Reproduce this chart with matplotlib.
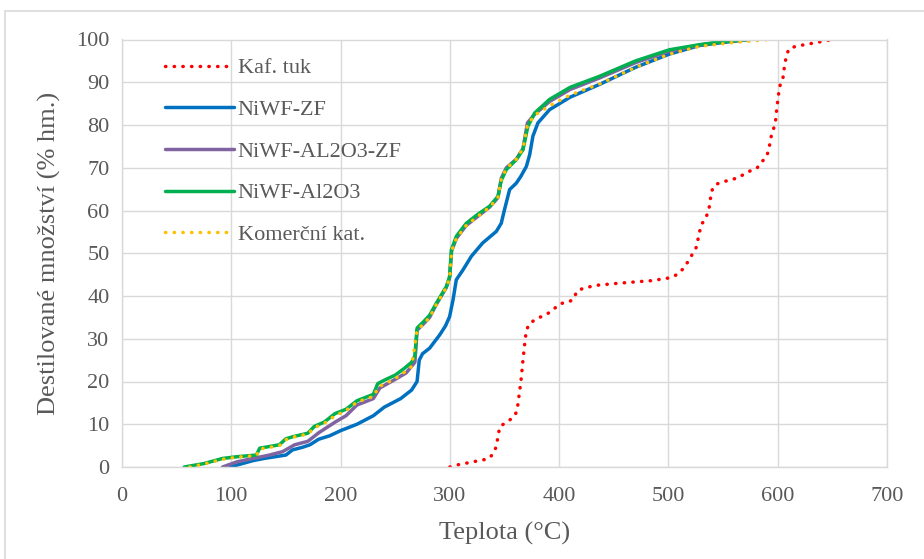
import matplotlib
matplotlib.use("Agg")
import matplotlib.pyplot as plt
from matplotlib.patches import Rectangle

# ---------------- data ----------------
kaf_T = [300, 307, 321, 335, 339.5, 342.5, 345.6, 351.7, 357.7, 361.4, 363.2, 365, 366.9, 368.4, 370, 373, 379,
         391, 401, 409.6, 414, 415.7, 421.8, 434, 455, 470, 485, 500, 508, 514, 519, 525.5, 527, 528.5, 530,
         533.8, 536.2, 537.7, 538.6, 539.8, 543.2, 549.9, 563, 574.3, 581, 584.3, 589.6, 591.7, 594.1, 596.2,
         598, 599.3, 600.2, 601.2, 602.4, 604.8, 605.7, 606.6, 608.4, 610.2, 616.4, 629.2, 644, 650]
kaf_Y = [0, 0.5, 1.2, 1.9, 3, 4.8, 9.4, 10.5, 11.5, 13, 16.5, 20, 25, 28.6, 32, 33.6, 34.6,
         36.1, 38.2, 38.7, 39.5, 41, 41.8, 42.5, 43, 43.3, 43.6, 44.2, 45, 46.5, 48.5, 51.4, 53.2, 55, 56.7,
         58, 59.6, 61.2, 63.1, 64.7, 66.1, 66.7, 67.6, 69.2, 69.9, 71.1, 72.5, 74.1, 77.4, 79.1,
         80.9, 84.2, 86, 88.1, 89.5, 91, 92.8, 94.5, 96.5, 97.8, 98.4, 99, 99.7, 100]

zf_T = [99, 110, 120, 130, 140, 150, 156, 165, 172, 180, 190, 200, 215, 230, 240, 255, 265, 270, 272, 275,
        281.5, 290.7, 296, 299.8, 302.9, 305.9, 312, 319.7, 330, 342.5, 347, 350, 354.7, 360.8, 365, 370,
        373, 376, 380.6, 391.3, 410, 437, 470, 501, 528.6, 550, 574]
zf_Y = [0, 0.8, 1.5, 2.0, 2.4, 2.8, 4, 4.6, 5.2, 6.5, 7.3, 8.5, 10, 12, 14, 16, 18, 20, 25, 26.5,
        27.8, 30.9, 33, 35.2, 39.1, 43.8, 46.1, 49.3, 52.4, 55.1, 57, 60.2, 64.9, 66.4, 68, 70.3,
        73, 77.4, 80.5, 83.6, 86.5, 89.5, 93.5, 96.6, 98.6, 99.3, 100]

alzf_T = [92, 105, 120, 135, 147, 158, 170, 180, 195, 205, 215, 230, 236, 250, 260, 268, 270, 276, 281.5,
          287.6, 296.8, 299.8, 301.6, 306, 315, 325, 336.4, 344, 347, 351.7, 360.8, 366.9, 371, 377.6,
          391.3, 410, 437, 470, 501, 528.6, 550, 574]
alzf_Y = [0, 1.2, 2.0, 2.8, 3.6, 5.2, 6, 8, 10.5, 12, 14.5, 16, 18.5, 20.5, 22, 24.5, 32, 33.5, 35,
          38, 42, 44.3, 50.5, 53.5, 56.5, 58.5, 60.8, 63, 67.5, 70, 72, 74.5, 80.5, 82.5,
          85.5, 88.3, 91, 94.6, 97.3, 98.7, 99.5, 100]

al_T = [57, 75, 92, 105, 123, 126, 144, 150, 156.5, 170, 176, 185, 195, 205, 215, 230, 234, 240, 250, 258,
        265, 268, 270, 276, 281.5, 287.6, 296.8, 299.8, 301.4, 306, 315, 325, 336.4, 344, 347, 351.7,
        360.8, 366.9, 371.4, 377.6, 391.3, 410, 437, 470, 501, 528.6, 550, 574]
al_Y = [0, 0.8, 2, 2.4, 2.8, 4.4, 5.2, 6.6, 7.1, 7.9, 9.5, 10.5, 12.5, 13.5, 15.5, 17, 19.5, 20.3, 21.5, 23,
        24.5, 26, 32.5, 34, 35.5, 38.3, 42.2, 44.6, 50.8, 54, 57, 59, 61, 63.3, 67, 69.6,
        71.9, 74.2, 79.7, 82.8, 86, 88.8, 91.4, 95, 97.6, 98.8, 99.5, 100]

kom_T = [62, 75, 92, 105, 123, 126, 144, 150, 156.5, 170, 176, 185, 195, 205, 215, 230, 235, 245, 255, 265,
         270, 276, 281.5, 287.6, 296.8, 299.8, 301.6, 306, 315, 325, 336.4, 344, 347, 351.7, 360.8,
         366.9, 371, 377.6, 391.3, 410, 437, 470, 501, 528.6, 560, 592]
kom_Y = [0, 0.7, 1.8, 2.3, 2.7, 4.2, 5.0, 6.4, 7.0, 7.7, 9.2, 10.2, 12, 13.2, 15.2, 16.5, 18.8, 20, 21.5, 23.5,
         32, 33.5, 35, 38, 42, 44.3, 50.5, 53.5, 56.5, 58.5, 60.8, 63, 67.3, 69.8, 72,
         74.5, 80, 82.3, 84.5, 87, 89.6, 93.5, 96.6, 98.4, 99.3, 100]

labels = ["Kaf. tuk", "NiWF-ZF", "NiWF-AL2O3-ZF", "NiWF-Al2O3", "Komerční kat."]
x_ticks = [0, 100, 200, 300, 400, 500, 600, 700]
y_ticks = [0, 10, 20, 30, 40, 50, 60, 70, 80, 90, 100]

# ---------------- plot ----------------
plt.rcParams['font.family'] = ['Liberation Serif', 'DejaVu Serif']
W, H = 924, 559
fig = plt.figure(figsize=(W / 100, H / 100), dpi=100)
ax = fig.add_axes([122 / W, 1 - 467 / H, (887 - 122) / W, (467 - 39.5) / H])

# outer chart border
fig.patches.append(Rectangle((5 / W, -0.01), 1.0, 1 - 11 / H + 0.01, transform=fig.transFigure,
                             fill=False, edgecolor='#D9D9D9', linewidth=1.2))

dot = (0, (0.1, 2.4))
lw = 2.5
ax.plot(kaf_T, kaf_Y, color='#FF0000', lw=lw, linestyle=dot, dash_capstyle='round', label=labels[0])
ax.plot(zf_T, zf_Y, color='#0070C0', lw=lw, solid_capstyle='round', label=labels[1])
ax.plot(alzf_T, alzf_Y, color='#8064A2', lw=lw, solid_capstyle='round', label=labels[2])
ax.plot(al_T, al_Y, color='#00B050', lw=lw, solid_capstyle='round', label=labels[3])
ax.plot(kom_T, kom_Y, color='#FFC000', lw=lw, linestyle=dot, dash_capstyle='round', label=labels[4])

ax.set_xlim(0, 700)
ax.set_ylim(0, 100)
ax.set_xticks(x_ticks)
ax.set_yticks(y_ticks)
ax.grid(True, color='#D9D9D9', linewidth=1.0)
ax.set_axisbelow(True)
for s in ax.spines.values():
    s.set_color('#D9D9D9')
    s.set_linewidth(1.0)
ax.tick_params(length=0, labelsize=16, labelcolor='#595959')
ax.tick_params(axis='x', pad=14.5)
ax.tick_params(axis='y', pad=9)

ax.set_xlabel("Teplota (°C)", fontsize=19, color='#595959', labelpad=11)
ax.set_ylabel("Destilované množství (% hm.)", fontsize=19, color='#595959', labelpad=11)

leg = ax.legend(loc='upper left', bbox_to_anchor=(0.045, 0.978), frameon=False, fontsize=16,
                handlelength=3.1, handletextpad=0.15, labelspacing=0.95, borderaxespad=0)
for t in leg.get_texts():
    t.set_color('#595959')

fig.savefig("out.png", dpi=100, facecolor='white')
